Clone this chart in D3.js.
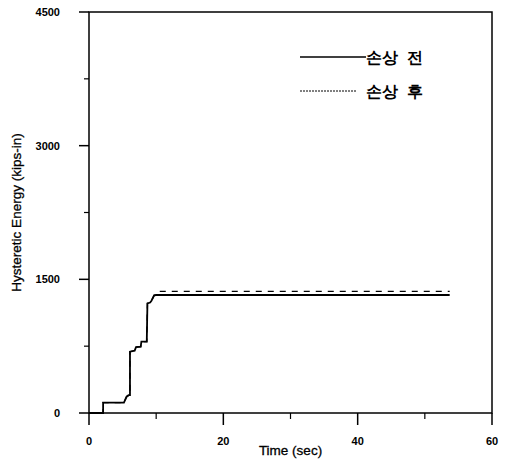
<!DOCTYPE html>
<html>
<head>
<meta charset="utf-8">
<script src="https://cdn.jsdelivr.net/npm/d3@7"></script>
<style>
	body { margin: 0; background: #fff; }
	text { font-family: "Liberation Sans", Arial, sans-serif; }
</style>
</head>
<body>
<div id="chart"></div>
<script>

//data (time in sec, energy in kips-in)
const beforeTime = [0, 2.1, 2.1, 5.2, 5.4, 5.6, 5.9, 6.1, 6.1, 6.8, 7.0, 7.7, 7.8, 8.6, 8.7, 9.1, 9.3, 9.7, 10.0, 53.7];
const beforeEnergy = [0, 0, 116, 116, 150, 183, 200, 200, 688, 700, 740, 745, 800, 800, 1230, 1240, 1260, 1320, 1324, 1324];
const afterTime = [0, 2.1, 2.1, 5.2, 5.4, 5.6, 5.9, 6.1, 6.1, 6.8, 7.0, 7.7, 7.8, 8.6, 8.7, 9.1, 9.3, 9.7, 10.0, 10.3, 53.7];
const afterEnergy = [0, 0, 116, 116, 150, 183, 200, 200, 688, 700, 740, 745, 800, 800, 1230, 1240, 1260, 1320, 1324, 1365, 1365];

const seriesNames = ["손상  전", "손상  후"];
const xTicks = [0, 20, 40, 60];
const xMinor = [10, 30, 50];
const yTicks = [0, 1500, 3000, 4500];
const yMinor = [750, 2250, 3750];

//sizing
const width = 507;
const height = 463;
const margin = {top: 12, right: 15, bottom: 50, left: 89};

let svg = d3.select("#chart")
	.append("svg")
	.attr("width", width)
	.attr("height", height);

let x = d3.scaleLinear()
	.domain([0, 60])
	.range([margin.left, width - margin.right]);

let y = d3.scaleLinear()
	.domain([0, 4500])
	.range([height - margin.bottom, margin.top]);

//frame
svg.append("rect")
	.attr("x", x(0))
	.attr("y", y(4500))
	.attr("width", x(60) - x(0))
	.attr("height", y(0) - y(4500))
	.attr("fill", "none")
	.attr("stroke", "#000")
	.attr("stroke-width", 1.5);

//x axis
let xAxis = svg.append("g")
	.attr("transform", "translate(0," + y(0) + ")");

xAxis.selectAll(".major")
	.data(xTicks)
	.enter().append("line")
	.attr("x1", (d) => x(d))
	.attr("x2", (d) => x(d))
	.attr("y1", 0)
	.attr("y2", 12)
	.attr("stroke", "#000")
	.attr("stroke-width", 1.5);

xAxis.selectAll(".minor")
	.data(xMinor)
	.enter().append("line")
	.attr("x1", (d) => x(d))
	.attr("x2", (d) => x(d))
	.attr("y1", 0)
	.attr("y2", 6)
	.attr("stroke", "#000")
	.attr("stroke-width", 1.2);

xAxis.selectAll("text")
	.data(xTicks)
	.enter().append("text")
	.attr("x", (d) => x(d))
	.attr("y", 32)
	.attr("text-anchor", "middle")
	.attr("font-size", 11)
	.attr("font-weight", "bold")
	.text((d) => d);

//y axis
let yAxis = svg.append("g")
	.attr("transform", "translate(" + x(0) + ",0)");

yAxis.selectAll(".major")
	.data(yTicks)
	.enter().append("line")
	.attr("x1", -10)
	.attr("x2", 0)
	.attr("y1", (d) => y(d))
	.attr("y2", (d) => y(d))
	.attr("stroke", "#000")
	.attr("stroke-width", 1.5);

yAxis.selectAll(".minor")
	.data(yMinor)
	.enter().append("line")
	.attr("x1", -5)
	.attr("x2", 0)
	.attr("y1", (d) => y(d))
	.attr("y2", (d) => y(d))
	.attr("stroke", "#000")
	.attr("stroke-width", 1.2);

yAxis.selectAll("text")
	.data(yTicks)
	.enter().append("text")
	.attr("x", -29)
	.attr("y", (d) => y(d) + 4)
	.attr("text-anchor", "end")
	.attr("font-size", 11)
	.attr("font-weight", "bold")
	.text((d) => d);

//axis titles
svg.append("text")
	.attr("x", (x(0) + x(60)) / 2)
	.attr("y", 455)
	.attr("text-anchor", "middle")
	.attr("font-size", 13.5)
	.attr("stroke", "#000")
	.attr("stroke-width", 0.3)
	.text("Time (sec)");

svg.append("text")
	.attr("transform", "translate(21," + y(2250) + ") rotate(-90)")
	.attr("text-anchor", "middle")
	.attr("font-size", 13.5)
	.attr("stroke", "#000")
	.attr("stroke-width", 0.3)
	.text("Hysteretic Energy (kips-in)");

//lines
let line = d3.line()
	.x((d) => x(d[0]))
	.y((d) => y(d[1]));

svg.append("path")
	.datum(d3.zip(afterTime, afterEnergy))
	.attr("d", line)
	.attr("fill", "none")
	.attr("stroke", "#000")
	.attr("stroke-width", 1.3)
	.attr("stroke-dasharray", "6,6");

svg.append("path")
	.datum(d3.zip(beforeTime, beforeEnergy))
	.attr("d", line)
	.attr("fill", "none")
	.attr("stroke", "#000")
	.attr("stroke-width", 1.8);

//legend
let legend = svg.append("g");

legend.append("line")
	.attr("x1", 300).attr("x2", 366)
	.attr("y1", 57).attr("y2", 57)
	.attr("stroke", "#000")
	.attr("stroke-width", 1.5);

legend.append("line")
	.attr("x1", 300).attr("x2", 357)
	.attr("y1", 91).attr("y2", 91)
	.attr("stroke", "#000")
	.attr("stroke-width", 1)
	.attr("stroke-dasharray", "2,1");

legend.selectAll("text")
	.data(seriesNames)
	.enter().append("text")
	.attr("x", 366)
	.attr("y", (d, i) => 63 + i * 34)
	.attr("font-family", "'Noto Sans CJK KR', sans-serif")
	.attr("font-size", 16)
	.attr("font-weight", "bold")
	.attr("xml:space", "preserve")
	.style("white-space", "pre")
	.text((d) => d);

</script>
</body>
</html>
